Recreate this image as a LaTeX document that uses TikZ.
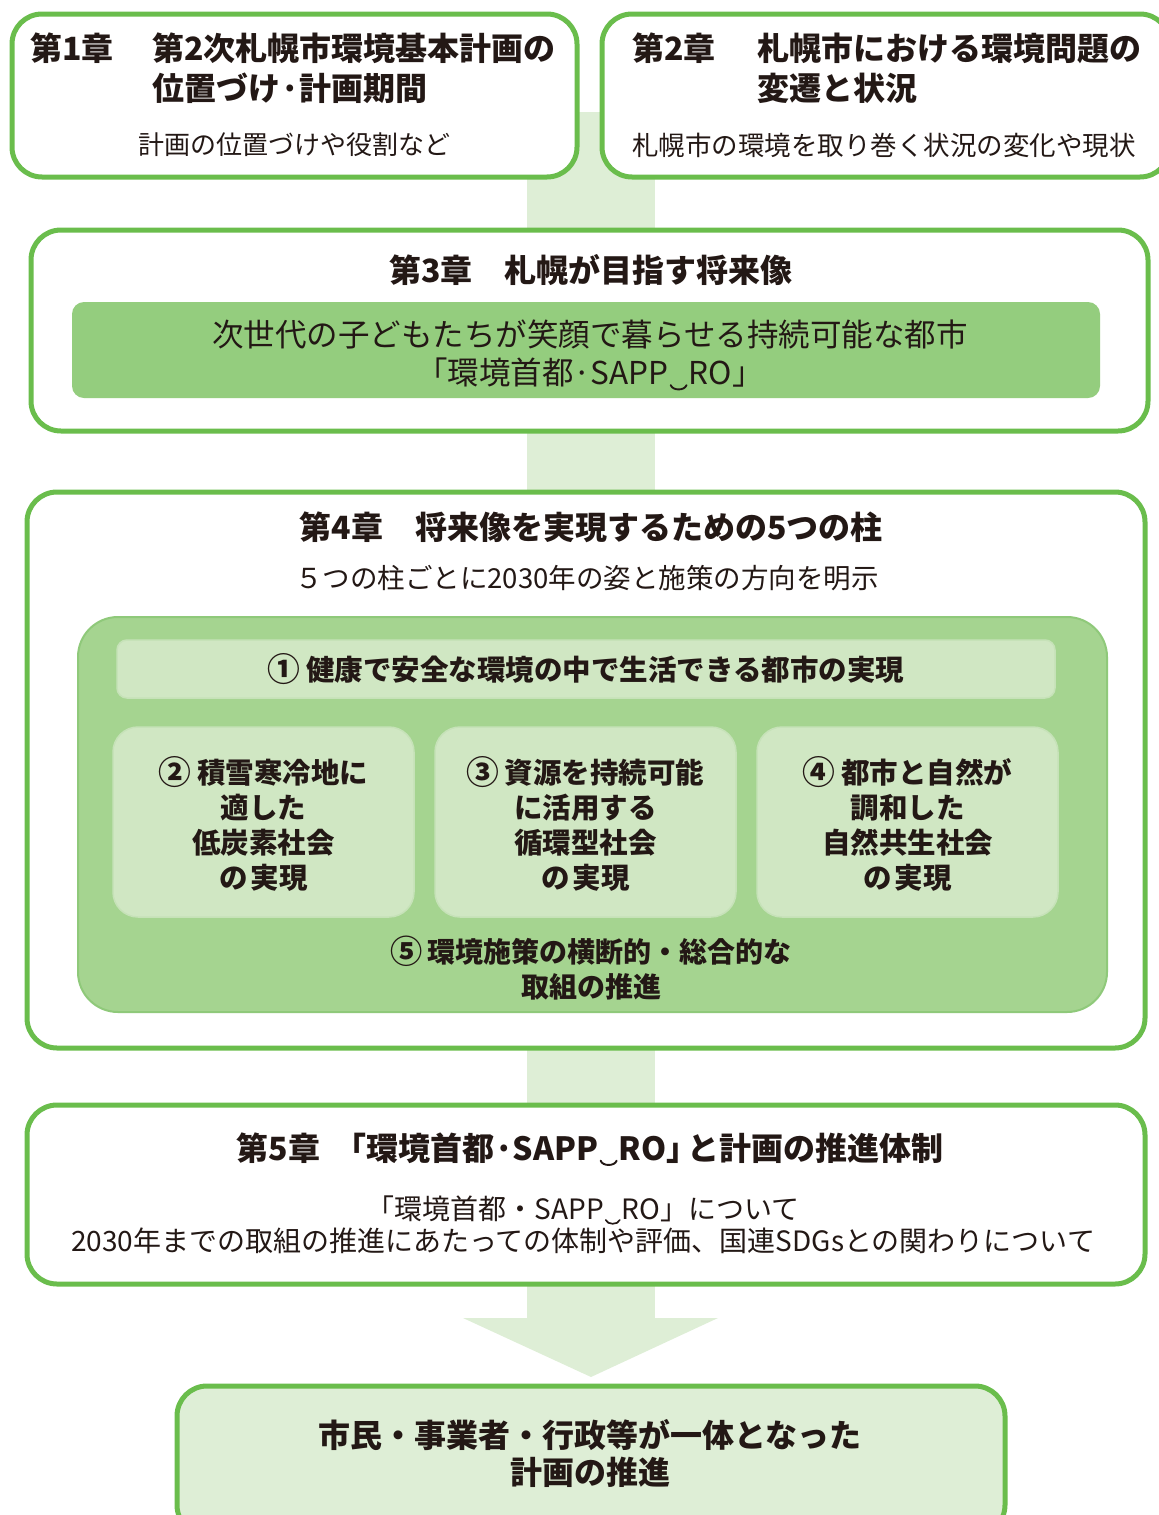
\documentclass[tikz,border=0pt]{standalone}
\usepackage{fontspec}
\setmainfont{Noto Sans CJK JP}
\definecolor{gline}{HTML}{6ABD4C}
\definecolor{band}{HTML}{DEEED6}
\definecolor{midg}{HTML}{94CD7E}
\definecolor{regg}{HTML}{A5D490}
\definecolor{regb}{HTML}{8FC97A}
\definecolor{paleg}{HTML}{D0E7C3}
\definecolor{txt}{HTML}{231815}
\newcommand{\tiemark}{\hspace{0.04em}\tikz[baseline=0pt,x=1em,y=1em]\draw[draw=txt,line width=0.06em,line cap=round] (0,-0.01) .. controls (0.06,-0.19) and (0.44,-0.19) .. (0.5,-0.01);\hspace{0.04em}}
\newcommand{\sapp}{SAPP\tiemark RO}
\newcommand{\cnum}[1]{\raisebox{-0.04em}{\scalebox{1.15}{#1}}\hspace{0.2em}}
\tikzset{
  chap/.style={draw=gline, line width=5pt, rounded corners=30pt, fill=white},
  ttl/.style={font=\bfseries\fontsize{32}{40}\selectfont, text=txt, inner sep=0pt},
  subt/.style={font=\fontsize{26}{32}\selectfont, text=txt, inner sep=0pt},
  region/.style={fill=regg, draw=regb, line width=2pt, rounded corners=40pt},
  pill/.style={fill=paleg, draw=paleg!85!regb, line width=1.5pt},
  ptxt/.style={font=\bfseries\fontsize{28.5}{35}\selectfont, text=txt, inner sep=0pt, align=center},
}
\begin{document}
\begin{tikzpicture}[x=1pt,y=-1pt]
\useasboundingbox (0,0) rectangle (1159,1515);
\clip (0,0) rectangle (1159,1515);
% band and arrow
\coordinate (bt) at (591,112);
\coordinate (bb) at (591,1318);
\fill[band] ([xshift=-64pt]bt) rectangle ([xshift=64pt]bb);
\fill[band] ([xshift=-128pt]bb) -- ([xshift=127pt]bb) -- ([yshift=-59pt]bb) -- cycle;
% chapter 1
\node[chap, minimum width=565pt, minimum height=163pt] (c1) at (294.5,95.5) {};
\node[ttl, anchor=west] (c1a) at (30,48) {第1章};
\node[ttl, anchor=west] (c1b) at (152,48) {第2次札幌市環境基本計画の};
\node[ttl, anchor=west] (c1c) at (152,88) {位置づけ·計画期間};
\node[subt] (c1s) at (294,145) {計画の位置づけや役割など};
% chapter 2
\node[chap, minimum width=568pt, minimum height=163pt] (c2) at (886,95.5) {};
\node[ttl, anchor=west] (c2a) at (632,48) {第2章};
\node[ttl, anchor=west] (c2b) at (757,48) {札幌市における環境問題の};
\node[ttl, anchor=west] (c2c) at (757,88) {変遷と状況};
\node[subt, font=\fontsize{26.5}{32}\selectfont] (c2s) at (884,145) {札幌市の環境を取り巻く状況の変化や現状};
% chapter 3
\node[chap, minimum width=1117pt, minimum height=201pt] (c3) at (589.5,330.5) {};
\node[ttl] (c3t) at (591,270) {第3章　札幌が目指す将来像};
\node[fill=midg, rounded corners=12pt, minimum width=1028pt, minimum height=96pt] (c3g) at (586,350) {};
\node[font=\fontsize{31.5}{38}\selectfont, text=txt, inner sep=0pt, align=center] (c3x) at (590,356)
  {次世代の子どもたちが笑顔で暮らせる持続可能な都市\\「環境首都·\sapp」};
% chapter 4
\node[chap, minimum width=1118pt, minimum height=556pt] (c4) at (586,770) {};
\node[ttl] (c4t) at (591,527) {第4章　将来像を実現するための5つの柱};
\node[subt, font=\fontsize{27.5}{32}\selectfont] (c4s) at (587,578) {５つの柱ごとに2030年の姿と施策の方向を明示};
\node[region, minimum width=1029pt, minimum height=395pt] (rg) at (592.5,814.5) {};
\node[pill, rounded corners=10pt, minimum width=938pt, minimum height=58pt] (p1) at (586,669) {};
\node[ptxt] (p1t) at (586,669) {\cnum{①}健康で安全な環境の中で生活できる都市の実現};
\node[pill, rounded corners=25pt, minimum width=301pt, minimum height=190pt] (p2) at (263.5,822) {};
\node[pill, rounded corners=25pt, minimum width=301pt, minimum height=190pt] (p3) at (585.5,822) {};
\node[pill, rounded corners=25pt, minimum width=301pt, minimum height=190pt] (p4) at (907.5,822) {};
\node[ptxt] (p2t) at ([yshift=-2pt]p2) {\cnum{②}積雪寒冷地に\\適した\\低炭素社会\\の\hspace{0.12em}実現};
\node[ptxt] (p3t) at ([yshift=-2pt]p3) {\cnum{③}資源を持続可能\\に活用する\\循環型社会\\の\hspace{0.12em}実現};
\node[ptxt] (p4t) at ([yshift=-2pt]p4) {\cnum{④}都市と自然が\\調和した\\自然共生社会\\の\hspace{0.12em}実現};
\node[ptxt, font=\bfseries\fontsize{28}{35}\selectfont] (p5t) at (591,968.5) {\cnum{⑤}環境施策の横断的・総合的な\\取組の推進};
% chapter 5
\node[chap, minimum width=1118pt, minimum height=179pt] (c5) at (586,1194.5) {};
\node[ttl] (c5t) at (590,1150) {第5章\hspace{0.45em}「環境首都·\sapp」\hspace{-0.35em}と計画の推進体制};
\node[font=\fontsize{28}{32}\selectfont, text=txt, inner sep=0pt, align=center] (c5s) at (583,1225)
  {「環境首都・\sapp」について\\2030年までの取組の推進にあたっての体制や評価、国連SDGsとの関わりについて};
% final
\node[chap, fill=band, minimum width=828pt, minimum height=149pt] (fin) at (591,1460.5) {};
\node[font=\bfseries\fontsize{32}{37}\selectfont, text=txt, inner sep=0pt, align=center] (fint) at (590,1453.5)
  {市民・事業者・行政等が一体となった\\計画の推進};
\end{tikzpicture}
\end{document}
